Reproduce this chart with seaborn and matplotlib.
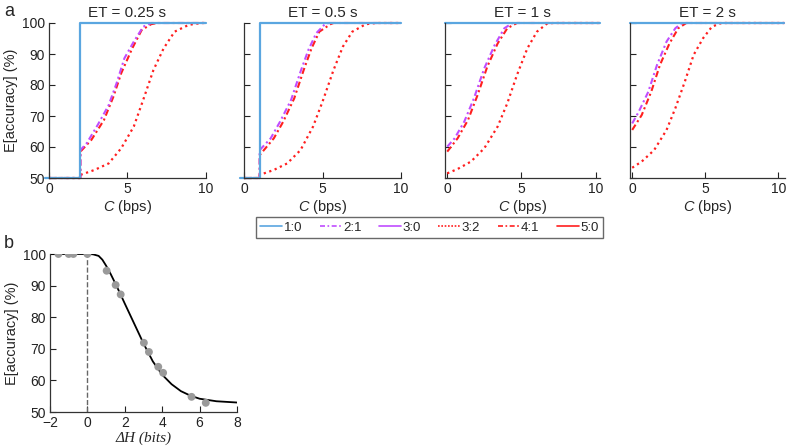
import matplotlib
matplotlib.use("Agg")
import matplotlib.pyplot as plt
from matplotlib.lines import Line2D
import pandas as pd
import seaborn as sns

# values
# panel a: E[accuracy] vs C for four ET values
et_titles = ["ET = 0.25 s", "ET = 0.5 s", "ET = 1 s", "ET = 2 s"]

# ET = 0.25 s
c10_a = [-0.25, 2, 2, 10]
y10_a = [50, 50, 100, 100]
c21_a = [0, 2, 2.0, 2.4, 3.1, 3.8, 4.3, 4.8, 5.4, 6.0, 6.5, 10]
y21_a = [50, 50, 59.0, 61.2, 67.1, 73.5, 80.5, 88.6, 94.0, 98.8, 100, 100]
c41_a = [0, 2, 2.0, 2.7, 3.5, 4.1, 4.6, 5.3, 5.9, 6.5, 6.9, 10]
y41_a = [50, 50, 58.5, 62.3, 68.7, 76.2, 83.8, 91.8, 97.7, 99.6, 100, 100]
c32_a = [0, 2, 2.0, 2.9, 3.8, 4.6, 5.4, 6.0, 6.65, 7.3, 8.0, 8.9, 9.7, 10]
y32_a = [50, 50, 51.0, 52.6, 54.7, 59.6, 66.6, 75.2, 84.8, 91.8, 97.2, 99.4, 100, 100]

# ET = 0.5 s
c10_b = [-0.25, 1, 1, 10]
y10_b = [50, 50, 100, 100]
c21_b = [0, 1, 1.0, 1.7, 2.3, 3.0, 3.6, 4.1, 4.6, 5.15, 5.4, 10]
y21_b = [50, 50, 59.0, 62.8, 68.2, 75.2, 84.3, 91.3, 96.7, 99.6, 100, 100]
c41_b = [0, 1, 1.0, 1.9, 2.5, 3.2, 3.8, 4.3, 4.8, 5.5, 5.7, 10]
y41_b = [50, 50, 57.4, 62.8, 68.2, 75.7, 84.8, 91.8, 97.2, 99.6, 100, 100]
c32_b = [0, 1, 1.0, 1.9, 2.75, 3.6, 4.4, 5.0, 5.7, 6.3, 6.9, 7.75, 8.4, 10]
y32_b = [50, 50, 51.0, 52.6, 54.7, 59.0, 66.6, 74.6, 84.8, 92.4, 97.2, 99.6, 100, 100]

# ET = 1 s
c10_c = [-0.15, 10.3]
y10_c = [100, 100]
c21_c = [0, 0.5, 1.15, 1.8, 2.5, 3.2, 3.85, 4.4, 10.3]
y21_c = [60.1, 62.8, 68.2, 75.7, 85.4, 92.9, 98.3, 100, 100]
c41_c = [0, 0.7, 1.4, 2.05, 2.7, 3.4, 4.05, 4.7, 10.3]
y41_c = [58.5, 62.8, 68.7, 76.8, 85.9, 93.4, 98.3, 100, 100]
c32_c = [0, 0.7, 1.6, 2.5, 3.4, 4.05, 4.7, 5.4, 6.05, 6.75, 7.2, 10.3]
y32_c = [51.5, 52.9, 55.3, 59.6, 66.6, 74.1, 83.2, 91.8, 97.2, 99.9, 100, 100]

# ET = 2 s
c10_d = [-0.15, 10.4]
y10_d = [100, 100]
c21_d = [0, 0.45, 1.1, 1.7, 2.35, 2.95, 3.4, 10.4]
y21_d = [67.6, 71.4, 77.8, 86.5, 94.0, 98.3, 100, 100]
c41_d = [0, 0.65, 1.3, 1.9, 2.55, 3.15, 3.7, 10.4]
y41_d = [65.5, 70.3, 77.8, 86.5, 93.4, 98.3, 100, 100]
c32_d = [0, 0.65, 1.5, 2.35, 2.95, 3.6, 4.2, 4.85, 5.45, 6.1, 10.4]
y32_d = [53.3, 55.3, 59.0, 65.5, 72.5, 81.1, 89.7, 95.1, 98.8, 100, 100]

# panel b: E[accuracy] vs delta H
dh_pts = [-1.55, -1.0, -0.75, 0, 1.03, 1.51, 1.78, 3.02, 3.29, 3.79, 4.05, 5.57, 6.33]
acc_pts = [100, 100, 100, 100, 94.7, 90.2, 87.2, 71.9, 69.0, 64.3, 62.4, 54.8, 52.9]
dh_fit = [-2, 0, 0.3, 0.6, 0.8, 1.0, 1.25, 1.5, 1.75, 2.0, 2.5, 3.0, 3.5, 4.0, 4.5, 5.0, 5.5, 6.0, 6.9, 8.0]
acc_fit = [100, 100, 99.9, 99.4, 98.2, 96.3, 93.6, 90.6, 87.5, 84.3, 78.0, 71.7, 66.0, 61.8, 58.8, 56.6, 55.2, 54.2, 53.4, 53.0]

blue = "#5AA6E0"
magenta = "#C04DFF"
red = "#FF1F1F"
dashdot = (0, (3, 1.5, 1, 1.5))

sns.set_theme(style="white")
plt.rcParams["font.family"] = ["Liberation Sans", "DejaVu Sans"]
plt.rcParams["mathtext.fontset"] = "custom"
plt.rcParams["mathtext.it"] = "Liberation Sans:italic"
plt.rcParams["mathtext.rm"] = "Liberation Sans"

fig = plt.figure(figsize=(7.87, 4.46), dpi=100)

panels = [
    (c10_a, y10_a, c21_a, y21_a, c41_a, y41_a, c32_a, y32_a),
    (c10_b, y10_b, c21_b, y21_b, c41_b, y41_b, c32_b, y32_b),
    (c10_c, y10_c, c21_c, y21_c, c41_c, y41_c, c32_c, y32_c),
    (c10_d, y10_d, c21_d, y21_d, c41_d, y41_d, c32_d, y32_d),
]
lefts = [49, 244, 445, 630]
widths = [157, 157, 155, 155]
xlims = [(0, 10), (0, 10), (-0.15, 10.3), (-0.15, 10.45)]

def line(ax, x, y, color, ls, lw=1.4):
    df = pd.DataFrame({"x": x, "y": y})
    sns.lineplot(data=df, x="x", y="y", ax=ax, color=color, linestyle=ls,
                 linewidth=lw, estimator=None, sort=False, clip_on=False)

for i, p in enumerate(panels):
    ax = fig.add_axes([lefts[i] / 787, (446 - 178) / 446, widths[i] / 787, 155 / 446])
    c10, y10, c21, y21, c41, y41, c32, y32 = p
    line(ax, c32, y32, red, (0, (1, 1.6)), 1.6)
    line(ax, c41, y41, red, dashdot, 1.5)
    line(ax, c21, y21, magenta, dashdot, 1.5)
    line(ax, c10, y10, blue, "-", 1.6)
    ax.set_xlim(*xlims[i])
    ax.set_ylim(50, 100)
    ax.set_xticks([0, 5, 10])
    ax.set_yticks([50, 60, 70, 80, 90, 100])
    ax.tick_params(direction="in", length=4, width=0.8, labelsize=10, colors="#222222",
                   left=True, bottom=True, pad=3)
    ax.set_xlabel("$C$ (bps)", fontsize=10.5, labelpad=1)
    if i == 0:
        ax.set_ylabel("E[accuracy] (%)", fontsize=10.5, labelpad=3)
    else:
        ax.set_ylabel("")
        ax.set_yticklabels([])
    ax.set_title(et_titles[i], fontsize=11, pad=4)
    for s in ["top", "right"]:
        ax.spines[s].set_visible(False)
    for s in ["left", "bottom"]:
        ax.spines[s].set_color("#333333")
        ax.spines[s].set_linewidth(0.9)

handles = [
    Line2D([], [], color=blue, lw=1.2, ls="-"),
    Line2D([], [], color=magenta, lw=1.2, ls=dashdot),
    Line2D([], [], color=magenta, lw=1.2, ls="-"),
    Line2D([], [], color=red, lw=1.2, ls=(0, (1, 1))),
    Line2D([], [], color=red, lw=1.2, ls=dashdot),
    Line2D([], [], color=red, lw=1.2, ls="-"),
]
labels = ["1:0", "2:1", "3:0", "3:2", "4:1", "5:0"]
leg = fig.legend(handles, labels, loc="center", bbox_to_anchor=(429.5 / 787, (446 - 227.5) / 446),
                 ncol=6, frameon=True, fancybox=False, fontsize=9.5, handlelength=1.65,
                 handletextpad=0.1, columnspacing=1.35, borderpad=0.3)
leg.get_frame().set_edgecolor("#444444")
leg.get_frame().set_linewidth(1.0)

# panel b
axb = fig.add_axes([50 / 787, (446 - 412) / 446, 187 / 787, 158 / 446])
axb.axvline(0, color="#666666", ls="--", lw=1.0)
sns.lineplot(x=dh_fit, y=acc_fit, ax=axb, color="black", linewidth=1.3, estimator=None, sort=False)
sns.scatterplot(x=dh_pts, y=acc_pts, ax=axb, color="#9A9A9A", s=32, edgecolor="none", zorder=3)
axb.set_xlim(-2, 8)
axb.set_ylim(50, 100)
axb.set_xticks([-2, 0, 2, 4, 6, 8])
axb.set_xticklabels(["\u22122", "0", "2", "4", "6", "8"])
axb.set_yticks([50, 60, 70, 80, 90, 100])
axb.tick_params(direction="in", length=4, width=0.8, labelsize=10, colors="#222222",
                left=True, bottom=True, pad=3)
axb.set_ylabel("E[accuracy] (%)", fontsize=10.5, labelpad=3)
axb.set_xlabel("\u0394H (bits)", fontsize=11, family="Liberation Serif", style="italic", labelpad=1)
for s in ["top", "right"]:
    axb.spines[s].set_visible(False)
for s in ["left", "bottom"]:
    axb.spines[s].set_color("#333333")
    axb.spines[s].set_linewidth(0.9)

fig.text(4 / 787, 1 - 12 / 446, "a", fontsize=13, va="center", ha="left")
fig.text(4 / 787, 1 - 243 / 446, "b", fontsize=13, va="center", ha="left")

fig.savefig("out.png", dpi=100)
